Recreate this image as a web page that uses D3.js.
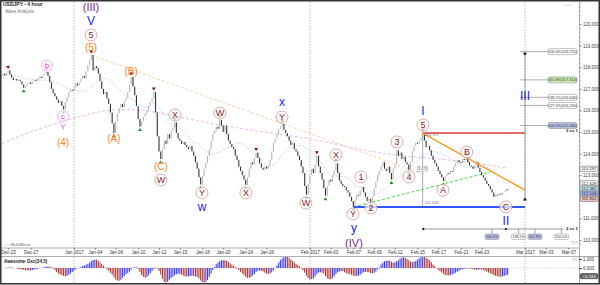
<!DOCTYPE html>
<html>
<head>
<meta charset="utf-8">
<script src="https://cdn.jsdelivr.net/npm/d3@7"></script>
<style>
  body { margin: 0; background: #fff; }
  svg { display: block; font-family: "Liberation Sans", Arial, sans-serif; }
</style>
</head>
<body>
<svg width="600" height="285"></svg>
<script>
// ---- data ----
var startDay = "2016-12-22";   // first 4h bar
var closes = [
  117.48,117.56,117.64,117.70,117.62,117.74,117.85,117.66,117.52,117.40,
  117.46,117.38,117.42,117.35,117.20,117.05,117.12,117.25,117.30,117.22,
  117.34,117.40,117.36,117.48,117.55,117.50,117.62,117.70,117.78,117.60,
  117.30,117.00,116.80,116.65,116.50,116.35,116.42,116.20,116.05,116.40,
  116.62,116.85,116.95,116.90,117.05,117.25,117.15,117.30,117.45,117.60,
  117.50,117.80,118.10,118.35,118.56,117.85,118.05,117.95,117.70,117.35,
  117.00,116.75,116.85,116.55,116.30,115.90,115.40,114.95,115.50,115.85,
  116.10,116.30,116.15,116.45,116.60,116.85,117.20,117.55,117.10,116.70,
  116.20,115.60,115.25,115.50,115.70,115.85,116.00,116.20,116.40,116.55,
  116.85,115.90,114.80,114.10,113.75,114.20,114.60,114.45,114.90,114.70,
  115.05,115.20,115.45,114.95,114.70,114.60,114.45,114.55,114.40,114.30,
  114.20,114.35,114.10,113.90,113.60,113.30,112.90,112.57,112.95,113.30,
  113.55,113.90,114.20,114.60,114.90,115.05,115.25,115.15,115.55,115.30,
  115.00,115.30,114.90,114.60,114.45,114.30,114.20,113.90,113.70,113.40,
  113.20,113.00,112.80,112.55,112.90,113.30,113.60,113.50,113.80,114.05,
  113.80,113.55,113.35,113.25,113.40,113.30,113.45,113.70,114.10,114.50,
  114.70,114.90,115.15,115.25,115.37,115.10,114.95,114.80,114.60,114.40,
  114.50,114.20,114.10,113.90,113.70,113.40,113.10,112.50,112.10,112.60,
  113.00,113.30,113.10,113.50,113.90,113.40,113.10,112.80,112.40,112.05,
  112.50,112.80,112.70,113.00,113.20,113.55,113.10,112.75,112.60,112.50,
  112.45,112.30,112.20,112.00,111.80,111.55,111.85,112.10,112.05,112.30,
  112.45,112.20,112.00,111.80,111.90,111.60,112.00,112.40,112.70,113.00,
  113.20,113.40,113.60,113.30,113.20,113.40,113.10,112.80,113.30,113.50,
  114.15,113.90,114.05,113.75,113.85,113.60,113.50,113.25,113.60,114.10,
  114.35,114.50,114.45,114.60,114.75,114.95,114.60,114.30,114.35,114.15,
  113.90,113.70,113.55,113.40,113.20,113.05,112.90,112.73,112.95,113.10,
  113.05,113.20,113.15,113.40,113.55,113.70,113.60,113.55,113.75,113.70,
  113.84,113.60,113.45,113.40,113.30,113.45,113.60,113.35,113.15,113.00,
  112.90,112.75,112.60,112.50,112.35,112.20,112.00,112.10,112.05,112.15,
  112.10,112.20,112.25,112.35,112.30
];

var tickDates = ["2016-12-23","2016-12-27","2017-01-02","2017-01-04","2017-01-06","2017-01-10",
  "2017-01-12","2017-01-15","2017-01-18","2017-01-20","2017-01-24","2017-01-26","2017-02-01",
  "2017-02-03","2017-02-07","2017-02-09","2017-02-12","2017-02-15","2017-02-17","2017-02-21",
  "2017-02-23","2017-03-01","2017-03-03","2017-03-07"];
var tickLabels = ["Dec-23","Dec-27","Jan 2017","Jan-04","Jan-06","Jan-10","Jan-12","Jan-15",
  "Jan-18","Jan-20","Jan-24","Jan-26","Feb 2017","Feb-03","Feb-07","Feb-09","Feb-12","Feb-15",
  "Feb-17","Feb-21","Feb-23","Mar 2017","Mar-03","Mar-07"];
var monthStarts = ["2017-01-02","2017-02-01","2017-03-01"];

// slow moving average, read as [bar, price]
var slowMA = [[0,114.38],[18,115.00],[40,115.56],[65,116.11],[88,116.02],[117,115.46],
  [145,115.09],[180,114.72],[209,114.17],[232,113.89],[264,113.70],[294,113.33]];

var highMarks = [6,28,54,77,90,102,128,149,164,184,195,245,270];
var lowMarks = [15,38,67,82,94,117,143,178,189,205,215,227,237,257];

// wave labels: [text, bar, price]
var circledRed = [["5",53.8,119.49],["X",102.2,115.79],["W",94.1,112.78],["Y",117.8,112.18],
  ["W",128.1,115.88],["X",143.1,112.18],["Y",163.9,115.69],["W",177.7,111.71],["X",195,113.94],
  ["1",209.4,112.92],["Y",204.8,111.2],["2",215.2,111.48],["3",230.2,114.54],["4",237.1,112.92],
  ["5",245.2,115.32],["A",256.7,112.31],["B",270.5,114.07],["C",293,111.53]];
var circledPink = [["b",28.4,118.08],["c",37.7,115.74]];
var orangeLabels = [["(5)",53.8,118.89],["(4)",37.7,114.52],["(A)",67,114.68],["(B)",76.9,117.82],["(C)",94.1,113.38]];
var blueLabels = [["V",53.8,120.14],["w",117.8,111.53],["x",163.9,116.39],["y",205.4,110.55],
  ["I",245.2,115.97],["II",293,110.86],["III",304,116.67]];
var purpleLabels = [["(III)",53.8,120.79],["(IV)",205.4,109.86]];
var lavenderLabels = [["Y",37.7,115.23]];

// trend lines: [[bar, price],[bar, price]]
var fanLine = [[54,118.56],[247,113.0]];
var supportLine = [[205,111.53],[284,113.15]];
var waveOneTop = 114.95, waveOneLow = 111.53;
var projEnd = [[245,114.95],[304,112.31]];

var priceTicks = [110,111,113,114,115,116,117,118,119,120];
var axisBoxes = [113.297,112.628,112.382,112.143,111.902];
var fibRatios = [1.0,1.272,1.382,1.618,2.0];
var fibBase = 111.88, waveOneLen = 3.42;
var timeRatios = [1.0,1.382,1.618,2.0];
var waveOneStart = 205, waveOneEnd = 245;

// ---- calendar: weekdays 6 bars, sunday 1 bar ----
var barOf = {};
(function() {
  var d = new Date(startDay + "T00:00:00Z"), bar = 0;
  for (var k = 0; k < 90; k++) {
    var wd = d.getUTCDay(), key = d.toISOString().slice(0, 10);
    if (wd === 0) { barOf[key] = bar; bar += 1; }
    else if (wd !== 6) { barOf[key] = bar; bar += 6; }
    d.setUTCDate(d.getUTCDate() + 1);
  }
})();

var svg = d3.select("svg");
var x = d3.scaleLinear().domain([44, 304]).range([74, 525]);
var y = d3.scaleLinear().domain([110, 120]).range([240, 24]);
var yAO = d3.scaleLinear().domain([0, 1]).range([268, 259]);

var bars = closes.map(function(c, i) {
  var o = i ? closes[i - 1] : c;
  return {i: i, o: o, c: c, hi: Math.max(o, c), lo: Math.min(o, c)};
});
function sma(arr, n) {
  return arr.map(function(v, i) { return d3.mean(arr.slice(Math.max(0, i - n + 1), i + 1)); });
}
var fastMA = sma(closes, 21);
var med = bars.map(function(b) { return (b.hi + b.lo) / 2; });
var s5 = sma(med, 5), s34 = sma(med, 34);
var ao = med.map(function(v, i) { return s5[i] - s34[i]; });

var defs = svg.append("defs");
defs.append("clipPath").attr("id", "pclip").append("rect").attr("x", 1).attr("y", 2).attr("width", 578).attr("height", 245);
defs.append("clipPath").attr("id", "aoclip").append("rect").attr("x", 1).attr("y", 257).attr("width", 578).attr("height", 26);

// month separators
svg.append("g").selectAll("line").data(monthStarts).enter().append("line")
  .attr("x1", d => x(barOf[d])).attr("x2", d => x(barOf[d]))
  .attr("y1", 2).attr("y2", 283)
  .attr("stroke", "#aaa").attr("stroke-width", 0.8).attr("stroke-dasharray", "1.5,1.5");

var pg = svg.append("g").attr("clip-path", "url(#pclip)");
var line = d3.line().x(d => x(d[0])).y(d => y(d[1]));

pg.append("path").datum(slowMA)
  .attr("d", d3.line().x(d => x(d[0])).y(d => y(d[1])).curve(d3.curveBasis))
  .attr("fill", "none").attr("stroke", "#e2a6e6").attr("stroke-width", 0.8).attr("stroke-dasharray", "3,2");
pg.append("path").datum(fastMA.map((v, i) => [i, v]))
  .attr("d", line.curve(d3.curveBasis))
  .attr("fill", "none").attr("stroke", "#a8c2f2").attr("stroke-width", 0.8).attr("stroke-dasharray", "1.5,1.5");
line.curve(d3.curveLinear);

pg.append("path").datum(fanLine).attr("d", line)
  .attr("fill", "none").attr("stroke", "#fcd0a4").attr("stroke-width", 1).attr("stroke-dasharray", "3,2");
pg.append("path").datum(supportLine).attr("d", line)
  .attr("fill", "none").attr("stroke", "#3ddc3d").attr("stroke-width", 1).attr("stroke-dasharray", "3,2");

// candles
pg.append("g").selectAll("rect").data(bars).enter().append("rect")
  .attr("x", d => x(d.i) - 0.55).attr("width", 1.1)
  .attr("y", d => y(d.hi)).attr("height", d => Math.max(1, y(d.lo) - y(d.hi)))
  .attr("fill", d => d.c >= d.o ? "#b4b4b4" : "#333");

// wave I measure, horizontal levels, projection
pg.append("line").attr("x1", x(waveOneEnd)).attr("x2", x(waveOneEnd)).attr("y1", y(waveOneTop)).attr("y2", y(waveOneLow))
  .attr("stroke", "#999").attr("stroke-width", 0.8);
pg.append("line").attr("x1", x(waveOneStart)).attr("x2", x(304)).attr("y1", y(waveOneLow)).attr("y2", y(waveOneLow))
  .attr("stroke", "#3355ff").attr("stroke-width", 2);
pg.append("line").attr("x1", x(waveOneEnd)).attr("x2", x(304)).attr("y1", y(waveOneTop)).attr("y2", y(waveOneTop))
  .attr("stroke", "#e03a3a").attr("stroke-width", 1.5);
pg.append("path").datum(projEnd).attr("d", line)
  .attr("fill", "none").attr("stroke", "#ff9a1a").attr("stroke-width", 1.5);

svg.append("text").attr("x", x(waveOneEnd) + 2).attr("y", y(waveOneTop) + 2.5)
  .attr("font-size", 4).attr("fill", "#777").text("114.951");
svg.append("text").attr("x", x(waveOneEnd) + 2).attr("y", y(waveOneLow) - 2.5)
  .attr("font-size", 4).attr("fill", "#777").text("111.526");
svg.append("rect").attr("x", x(waveOneEnd) - 5).attr("y", y(113.3) - 2.5).attr("width", 10).attr("height", 5)
  .attr("fill", "#fff").attr("stroke", "#999").attr("stroke-width", 0.5);
svg.append("text").attr("x", x(waveOneEnd)).attr("y", y(113.3) + 1.4).attr("text-anchor", "middle")
  .attr("font-size", 3.8).attr("fill", "#555").text("3.425");

// price fibonacci (3 vs 1)
var fx = x(304);
svg.append("line").attr("x1", fx).attr("x2", fx).attr("y1", y(fibBase)).attr("y2", y(fibBase + 2 * waveOneLen))
  .attr("stroke", "#999").attr("stroke-width", 0.9);
svg.append("path").attr("d", "M" + (fx - 2) + "," + (y(fibBase + 2 * waveOneLen) + 1) + "h4l-2,3z").attr("fill", "#111");
svg.append("path").attr("d", "M" + (fx - 2) + "," + (y(fibBase) + 1) + "h4l-2,-3z").attr("fill", "#111");
var fibG = svg.append("g").selectAll("g").data(fibRatios).enter().append("g")
  .attr("transform", d => "translate(0," + y(fibBase + d * waveOneLen) + ")");
fibG.append("line").attr("x1", fx - 5).attr("x2", 548).attr("stroke", "#999").attr("stroke-width", 0.8);
fibG.append("rect").attr("x", 548).attr("y", -3).attr("width", 29).attr("height", 6).attr("rx", 2)
  .attr("fill", d => d === 1.618 ? "#c9ecb4" : d === 1 ? "#b9c2e6" : "#fff").attr("stroke", "#888").attr("stroke-width", 0.5);
fibG.append("text").attr("x", 562.5).attr("y", 1.4).attr("text-anchor", "middle").attr("font-size", 3.8).attr("fill", "#333")
  .text(d => d3.format(".1f")(d * 100) + "%(" + d3.format(".3f")(fibBase + d * waveOneLen) + ")");
svg.append("text").attr("x", 566).attr("y", y(fibBase + waveOneLen) + 6.5).attr("font-size", 4.3).attr("font-weight", "bold")
  .attr("fill", "#111").text("3 vs 1");

// time fibonacci (2 vs 1)
var ty = y(110.51), span = waveOneEnd - waveOneStart;
svg.append("line").attr("x1", x(waveOneEnd)).attr("x2", x(waveOneEnd + 2 * span) + 2).attr("y1", ty).attr("y2", ty)
  .attr("stroke", "#888").attr("stroke-width", 0.9);
svg.append("path").attr("d", "M" + (x(waveOneEnd) - 1) + "," + ty + "l2.5,-1.5v3z").attr("fill", "#111");
svg.append("circle").attr("cx", x(293)).attr("cy", ty).attr("r", 1.1).attr("fill", "#111");
svg.append("text").attr("x", 566).attr("y", ty + 1.5).attr("font-size", 4.3).attr("font-weight", "bold").attr("fill", "#111").text("2 vs 1");
var tg = svg.append("g").selectAll("g").data(timeRatios).enter().append("g")
  .attr("transform", d => "translate(" + x(waveOneEnd + d * span) + "," + ty + ")");
tg.append("line").attr("y1", 0).attr("y2", 5).attr("stroke", "#888").attr("stroke-width", 0.7);
tg.append("rect").attr("x", -7).attr("y", 5).attr("width", 14).attr("height", 5.5).attr("rx", 1.5)
  .attr("fill", d => (d === 1 || d === 1.618) ? "#b9c2e6" : "#fff")
  .attr("stroke", "#888").attr("stroke-width", 0.5);
tg.append("text").attr("y", 9.2).attr("text-anchor", "middle").attr("font-size", 3.6).attr("fill", "#333")
  .text(d => d3.format(".1f")(d * 100) + "%");

// swing markers
svg.append("g").selectAll("path").data(highMarks).enter().append("path")
  .attr("d", d => { var px = x(d), py = y(bars[d].hi) - 2.5; return "M" + (px - 2) + "," + (py - 2) + "h4l-2,3z"; })
  .attr("fill", "#8b1010");
svg.append("g").selectAll("path").data(lowMarks).enter().append("path")
  .attr("d", d => { var px = x(d), py = y(bars[d].lo) + 2.5; return "M" + (px - 2) + "," + (py + 2) + "h4l-2,-3z"; })
  .attr("fill", "#2a8a2a");

// wave labels
function addCircled(data, stroke, color, r, size) {
  var g = svg.append("g").selectAll("g").data(data).enter().append("g")
    .attr("transform", d => "translate(" + x(d[1]) + "," + y(d[2]) + ")");
  g.append("circle").attr("r", r).attr("fill", "rgba(255,255,255,0.7)").attr("stroke", stroke).attr("stroke-width", 0.9);
  g.append("text").attr("text-anchor", "middle").attr("dominant-baseline", "central")
    .attr("font-size", size).attr("fill", color).text(d => d[0]);
}
function addLabels(data, color, size, weight) {
  svg.append("g").selectAll("text").data(data).enter().append("text")
    .attr("x", d => x(d[1])).attr("y", d => y(d[2]))
    .attr("text-anchor", "middle").attr("dominant-baseline", "central")
    .attr("fill", color).attr("font-size", size).attr("font-weight", weight).text(d => d[0]);
}
addCircled(circledRed, "#d9a0a0", "#8b1a1a", 6, 9);
addCircled(circledPink, "#f2a6f2", "#ff30ff", 5.5, 8);
addLabels(orangeLabels, "#ff7f1e", 10, "normal");
addLabels(blueLabels, "#1a1aff", 12, "normal");
addLabels(purpleLabels, "#7a2a92", 11, "normal");
addLabels(lavenderLabels, "#b08ee6", 9, "normal");

// price axis
var axisG = svg.append("g").attr("transform", "translate(579.5,0)")
  .call(d3.axisRight(y).tickValues(priceTicks).tickSize(2).tickPadding(1.5).tickFormat(d3.format(".3f")));
axisG.select(".domain").remove();
axisG.selectAll("text").attr("font-size", 4.5).attr("fill", "#444");
axisG.selectAll("line").attr("stroke", "#777");
var minorG = svg.append("g").attr("transform", "translate(579.5,0)")
  .call(d3.axisRight(y).tickValues(d3.range(109.8, 121, 0.2)).tickSize(1.2).tickFormat(""));
minorG.select(".domain").remove();
minorG.selectAll("line").attr("stroke", "#999");
svg.append("line").attr("x1", 579.5).attr("x2", 579.5).attr("y1", 2).attr("y2", 283).attr("stroke", "#999").attr("stroke-width", 0.8);

var boxFill = ["#fff", "#fff", "#bfe6ee", "#a9b6ee", "#f3c3c3"];
var bg = svg.append("g").selectAll("g").data(axisBoxes).enter().append("g")
  .attr("transform", d => "translate(580," + y(d) + ")");
bg.append("rect").attr("y", -2.6).attr("width", 18).attr("height", 5.2).attr("rx", 1.5)
  .attr("fill", (d, i) => boxFill[i]).attr("stroke", "#555").attr("stroke-width", 0.5);
bg.append("text").attr("x", 9).attr("y", 1.5).attr("text-anchor", "middle").attr("font-size", 4.2).attr("fill", "#222")
  .text(d => d3.format(".3f")(d));

// date axis
svg.append("line").attr("x1", 1).attr("x2", 579).attr("y1", 248).attr("y2", 248).attr("stroke", "#999").attr("stroke-width", 0.8);
svg.append("line").attr("x1", 1).attr("x2", 599).attr("y1", 256.5).attr("y2", 256.5).attr("stroke", "#999").attr("stroke-width", 0.8);
var dateG = svg.append("g").attr("transform", "translate(0,248)")
  .call(d3.axisBottom(x).tickValues(tickDates.map(d => barOf[d])).tickSize(1.5).tickPadding(1)
    .tickFormat((d, i) => tickLabels[i]));
dateG.select(".domain").remove();
dateG.selectAll("text").attr("font-size", 4.5).attr("fill", "#333");
dateG.selectAll("line").attr("stroke", "#777");

// awesome oscillator
var aoG = svg.append("g").attr("clip-path", "url(#aoclip)");
aoG.append("line").attr("x1", 1).attr("x2", 579).attr("y1", yAO(0)).attr("y2", yAO(0))
  .attr("stroke", "#bbb").attr("stroke-width", 0.6).attr("stroke-dasharray", "1.5,1.5");
aoG.selectAll("line.ao").data(ao).enter().append("line").attr("class", "ao")
  .attr("x1", (d, i) => x(i)).attr("x2", (d, i) => x(i))
  .attr("y1", yAO(0)).attr("y2", d => yAO(d))
  .attr("stroke", (d, i) => i && d > ao[i - 1] ? "#3c3cff" : "#b03a3a").attr("stroke-width", 1.1);
svg.append("text").attr("x", 4).attr("y", 262.5).attr("font-size", 4.6).attr("font-weight", "bold").attr("fill", "#222")
  .text("Awesome Osc(34,5)");
var aoAxis = svg.append("g").attr("transform", "translate(579.5,0)")
  .call(d3.axisRight(yAO).tickValues([0, 1]).tickSize(2).tickPadding(1.5).tickFormat(d3.format(".3f")));
aoAxis.select(".domain").remove();
aoAxis.selectAll("text").attr("font-size", 4.5).attr("fill", "#444");
svg.append("rect").attr("x", 580).attr("y", 273.5).attr("width", 18).attr("height", 5.2).attr("rx", 1.5)
  .attr("fill", "#666").attr("stroke", "#333").attr("stroke-width", 0.5);
svg.append("text").attr("x", 589).attr("y", 277.6).attr("text-anchor", "middle").attr("font-size", 4.2).attr("fill", "#fff")
  .text(d3.format(".3f")(ao[ao.length - 1]));

// titles and small controls
svg.append("text").attr("x", 3).attr("y", 6).attr("font-size", 5).attr("font-weight", "bold").attr("fill", "#222").text("USDJPY - 4 hour");
svg.append("text").attr("x", 5).attr("y", 12.5).attr("font-size", 4.5).attr("fill", "#777").text("Wave Analysis");
svg.append("text").attr("x", 4).attr("y", 246).attr("font-size", 4.3).attr("fill", "#666").text("\u25cb\u25cb MultiWave");
svg.append("text").attr("x", 563).attr("y", 6.5).attr("font-size", 5).attr("fill", "#999").text("\u25cb\u25cb\u25cb");
svg.append("text").attr("x", 571).attr("y", 244).attr("font-size", 4.5).attr("fill", "#999").text("\u25c7\u25c7");
svg.append("text").attr("x", 572).attr("y", 261).attr("font-size", 4.5).attr("fill", "#999").text("\u25c7\u25a1");

// frame
svg.append("rect").attr("x", 0.75).attr("y", 0.75).attr("width", 598.5).attr("height", 283)
  .attr("fill", "none").attr("stroke", "#333").attr("stroke-width", 1.5);
</script>
</body>
</html>
